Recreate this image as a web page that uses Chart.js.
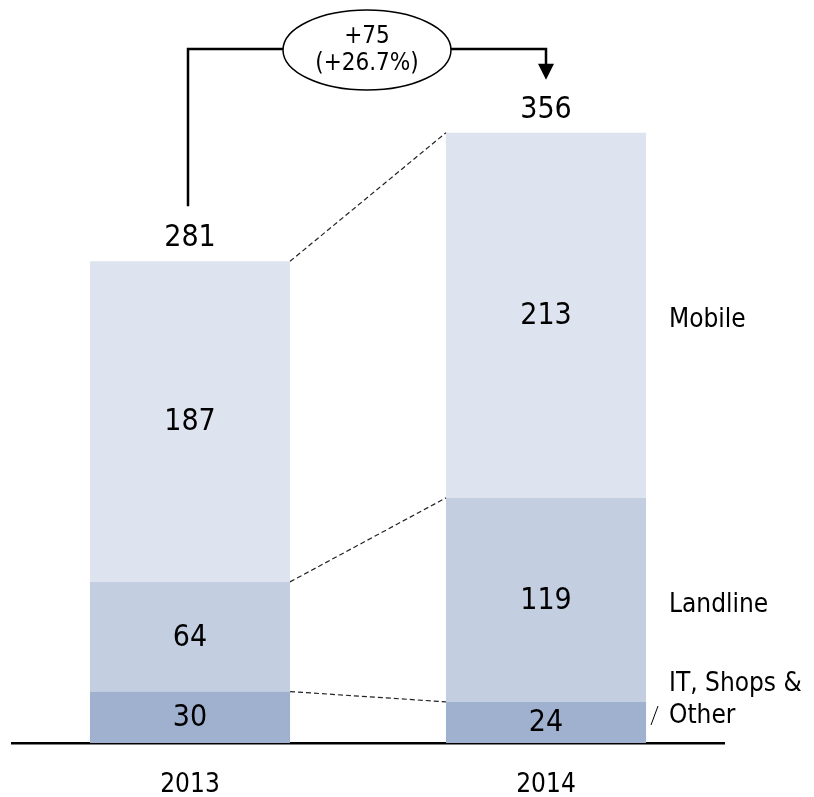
<!DOCTYPE html>
<html>
<head>
<meta charset="utf-8">
<script src="https://cdn.jsdelivr.net/npm/chart.js@4.4.1/dist/chart.umd.min.js"></script>
<style>
  html, body { margin: 0; padding: 0; background: #fff; }
  #wrap { width: 814px; height: 797px; position: relative; }
</style>
</head>
<body>
<div id="wrap"><canvas id="revChart"></canvas></div>
<script>
// Revenue split by segment
const years = ['2013', '2014'];
const itShopsOther = [30, 24];
const landline = [64, 119];
const mobile = [187, 213];
const segmentNames = [['IT, Shops &', 'Other'], ['Landline'], ['Mobile']];
const segmentColors = ['#9fb1cf', '#c3cee1', '#dee4ef'];

const FONT = '"DejaVu Sans Condensed", "DejaVu Sans", sans-serif';
const totals = years.map((y, i) => itShopsOther[i] + landline[i] + mobile[i]);

// extra drawing: value labels, dashed connectors, growth bracket, segment names
const decorations = {
    id: 'decorations',
    afterDatasetsDraw(chart) {
        const ctx = chart.ctx;
        const metas = chart.data.datasets.map((d, i) => chart.getDatasetMeta(i));
        ctx.save();
        ctx.fillStyle = '#000';
        ctx.textAlign = 'center';
        ctx.textBaseline = 'middle';
        ctx.font = '30px ' + FONT;

        // values inside segments
        metas.forEach((meta, di) => {
            meta.data.forEach((bar, i) => {
                const p = bar.getProps(['x', 'y', 'base']);
                ctx.fillText(chart.data.datasets[di].data[i], p.x, (p.y + p.base) / 2 + 1);
            });
        });

        // totals above bars
        const topMeta = metas[metas.length - 1];
        topMeta.data.forEach((bar, i) => {
            ctx.fillText(totals[i], bar.x, bar.y - 23);
        });

        // dashed connectors between bars
        ctx.strokeStyle = '#222';
        ctx.lineWidth = 1.2;
        ctx.setLineDash([5, 3]);
        metas.forEach(meta => {
            const a = meta.data[0].getProps(['x', 'y', 'width']);
            const b = meta.data[1].getProps(['x', 'y', 'width']);
            ctx.beginPath();
            ctx.moveTo(a.x + a.width / 2, a.y);
            ctx.lineTo(b.x - b.width / 2, b.y);
            ctx.stroke();
        });
        ctx.setLineDash([]);

        // growth bracket
        const b0 = topMeta.data[0], b1 = topMeta.data[1];
        const lineY = 49;
        const x0 = b0.x - 2, x1 = b1.x;
        const cx = (b0.x + b1.x) / 2;
        ctx.strokeStyle = '#000';
        ctx.lineWidth = 2.5;
        ctx.beginPath();
        ctx.moveTo(x0, b0.y - 55);
        ctx.lineTo(x0, lineY);
        ctx.lineTo(x1, lineY);
        ctx.lineTo(x1, b1.y - 66);
        ctx.stroke();
        // arrow head
        ctx.beginPath();
        ctx.moveTo(x1 - 8, b1.y - 69);
        ctx.lineTo(x1 + 8, b1.y - 69);
        ctx.lineTo(x1, b1.y - 53);
        ctx.closePath();
        ctx.fill();

        // ellipse with the change
        ctx.lineWidth = 1.5;
        ctx.beginPath();
        ctx.ellipse(cx - 1, 50, 84, 40, 0, 0, Math.PI * 2);
        ctx.fillStyle = '#fff';
        ctx.fill();
        ctx.stroke();
        const diff = totals[1] - totals[0];
        const pct = (diff / totals[0] * 100).toFixed(1);
        ctx.fillStyle = '#000';
        ctx.font = '24px ' + FONT;
        ctx.fillText('+' + diff, cx - 1, 37);
        ctx.fillText('(+' + pct + '%)', cx - 1, 64);

        // segment names right of the last bar
        ctx.textAlign = 'left';
        ctx.font = '26px ' + FONT;
        const lx = 669;
        metas.forEach((meta, di) => {
            const p = meta.data[1].getProps(['y', 'base']);
            const lines = segmentNames[di];
            let mid = (p.y + p.base) / 2 + 5;
            if (lines.length > 1) mid -= 27;
            lines.forEach((t, k) => {
                ctx.fillText(t, lx, mid + (k - (lines.length - 1) / 2) * 32);
            });
        });
        // small leader for the two-line label
        ctx.lineWidth = 1;
        ctx.beginPath();
        ctx.moveTo(651, 725);
        ctx.lineTo(658, 706);
        ctx.stroke();

        ctx.restore();
    }
};

Chart.defaults.font.family = FONT;

new Chart(document.getElementById('revChart').getContext('2d'), {
    type: 'bar',
    data: {
        labels: years,
        datasets: [
            { label: 'IT, Shops & Other', data: itShopsOther, backgroundColor: segmentColors[0] },
            { label: 'Landline', data: landline, backgroundColor: segmentColors[1] },
            { label: 'Mobile', data: mobile, backgroundColor: segmentColors[2] }
        ]
    },
    options: {
        responsive: true,
        maintainAspectRatio: false,
        animation: false,
        barPercentage: 0.562,
        categoryPercentage: 1,
        layout: { padding: { left: 12, right: 90, top: 23, bottom: 0 } },
        plugins: {
            legend: { display: false },
            tooltip: { enabled: false }
        },
        scales: {
            x: {
                stacked: true,
                grid: { display: false, drawTicks: false },
                border: { display: true, color: '#000', width: 2.5 },
                ticks: { color: '#000', font: { size: 26 }, padding: 27 },
                afterFit(scale) { scale.height = 54; }
            },
            y: {
                stacked: true,
                display: false,
                min: 0,
                max: 420
            }
        }
    },
    plugins: [decorations]
});
</script>
</body>
</html>
